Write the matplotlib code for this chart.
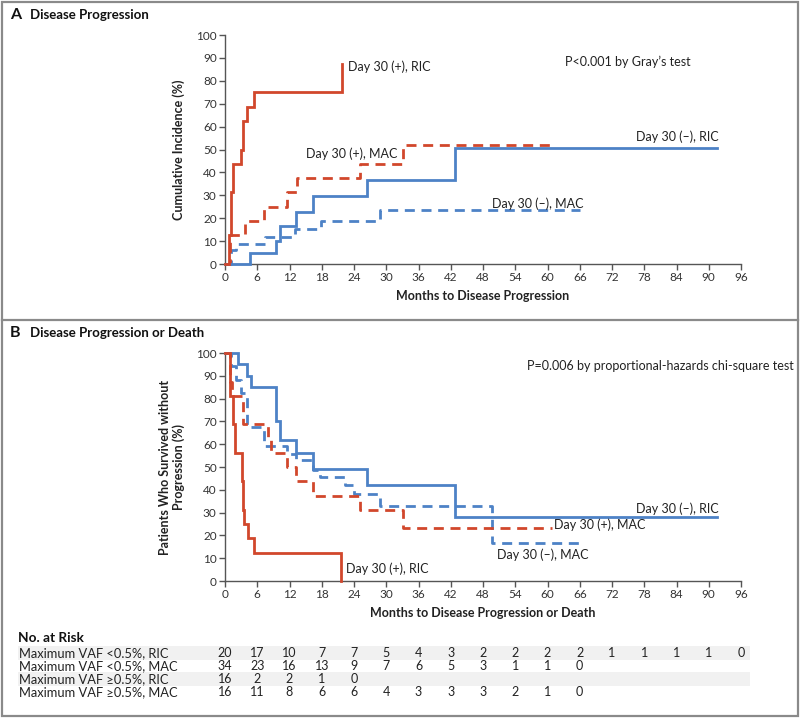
import matplotlib
matplotlib.use("Agg")
import matplotlib.pyplot as plt
from matplotlib.patches import Rectangle
from matplotlib.lines import Line2D
import matplotlib.transforms as mtransforms

plt.rcParams['font.family'] = ['Lato', 'DejaVu Sans']

RED = '#d1472c'
BLUE = '#4d82c6'
GRAY = '#333333'

# ---------- Panel A: cumulative incidence of progression ----------
a_pos_ric_t = [0, 0.8, 1.1, 1.5, 3.0, 3.3, 4.0, 5.4, 21.7]
a_pos_ric_v = [0, 12.5, 31.25, 43.75, 50, 62.5, 68.75, 75, 87.5]
a_pos_ric_end = 21.7

a_pos_mac_t = [0, 0.9, 3.8, 7.2, 11.5, 13.4, 25.2, 33.2]
a_pos_mac_v = [0, 12.5, 18.75, 25, 31.25, 37.5, 43.75, 51.8]
a_pos_mac_end = 60.8

a_neg_ric_t = [0, 4.7, 9.4, 10.2, 13.3, 16.3, 26.5, 42.8]
a_neg_ric_v = [0, 5, 10, 16.5, 22.5, 29.5, 36.5, 50.5]
a_neg_ric_end = 91.5

a_neg_mac_t = [0, 1.1, 2.1, 7.5, 13.1, 17.8, 28.9]
a_neg_mac_v = [0, 5.9, 8.8, 11.8, 15.3, 18.8, 23.5]
a_neg_mac_end = 66

# ---------- Panel B: progression-free survival ----------
b_pos_ric_t = [0, 1.0, 1.4, 1.8, 3.1, 3.2, 3.3, 3.4, 3.6, 4.2, 5.4, 21.6]
b_pos_ric_v = [100, 81.25, 68.75, 56.25, 50, 43.75, 37.5, 31.25, 25, 18.75, 12.5, 0]
b_pos_ric_end = 21.6

b_pos_mac_t = [0, 0.9, 1.3, 3.4, 8.0, 8.6, 11.5, 13.3, 16.4, 25.2, 33.2]
b_pos_mac_v = [100, 87.5, 81.25, 68.75, 62.5, 56.25, 50, 43.75, 37.5, 31.25, 23.4]
b_pos_mac_end = 60.8

b_neg_ric_t = [0, 2.5, 4.0, 4.8, 9.4, 10.2, 13.3, 16.4, 26.5, 42.8]
b_neg_ric_v = [100, 95, 90, 85, 70, 62, 56.2, 49.2, 42.3, 28]
b_neg_ric_end = 91.5

b_neg_mac_t = [0, 1.2, 2.1, 3.0, 4.1, 7.3, 11.5, 13.3, 16.4, 17.7, 22.3, 24.0, 28.9, 49.6]
b_neg_mac_v = [100, 94.1, 88.2, 82.4, 67.6, 59.4, 55.9, 52.9, 48.5, 45.6, 42.0, 38.2, 33.0, 16.5]
b_neg_mac_end = 66

# ---------- number at risk ----------
risk_months = list(range(0, 97, 6))
risk_labels = ['Maximum VAF <0.5%, RIC', 'Maximum VAF <0.5%, MAC',
               'Maximum VAF \u22650.5%, RIC', 'Maximum VAF \u22650.5%, MAC']
risk_neg_ric = [20, 17, 10, 7, 7, 5, 4, 3, 2, 2, 2, 2, 1, 1, 1, 1, 0]
risk_neg_mac = [34, 23, 16, 13, 9, 7, 6, 5, 3, 1, 1, 0]
risk_pos_ric = [16, 2, 2, 1, 0]
risk_pos_mac = [16, 11, 8, 6, 6, 4, 3, 3, 3, 2, 1, 0]
risk_rows = [risk_neg_ric, risk_neg_mac, risk_pos_ric, risk_pos_mac]


def draw_curve(ax, t, v, end, color, dashed):
    x = list(t) + [end]
    y = list(v) + [v[-1]]
    ls = (0, (3.6, 2.4)) if dashed else '-'
    ax.step(x, y, where='post', color=color, lw=2.0, linestyle=ls,
            clip_on=False, solid_joinstyle='miter', zorder=3)


def style_axes(ax, xlabel, ylabel):
    ax.set_xlim(0, 96)
    ax.set_ylim(0, 100)
    ax.set_xticks(range(0, 97, 6))
    ax.set_yticks(range(0, 101, 10))
    for s in ['top', 'right']:
        ax.spines[s].set_visible(False)
    for s in ['left', 'bottom']:
        ax.spines[s].set_color('#555555')
        ax.spines[s].set_linewidth(1.0)
    ax.tick_params(direction='out', length=4, width=1.0, color='#555555',
                   labelsize=8.5, labelcolor=GRAY, pad=2)
    ax.set_xlabel(xlabel, fontsize=9, fontweight='bold', color='#222222', labelpad=5)
    ax.set_ylabel(ylabel, fontsize=9, fontweight='bold', color='#222222', labelpad=8)


fig = plt.figure(figsize=(8, 7.18), dpi=100)

# panel A
axA = fig.add_axes([0.28125, 0.6323, 0.645, 0.3189])
draw_curve(axA, a_neg_mac_t, a_neg_mac_v, a_neg_mac_end, BLUE, True)
draw_curve(axA, a_pos_mac_t, a_pos_mac_v, a_pos_mac_end, RED, True)
draw_curve(axA, a_neg_ric_t, a_neg_ric_v, a_neg_ric_end, BLUE, False)
draw_curve(axA, a_pos_ric_t, a_pos_ric_v, a_pos_ric_end, RED, False)
style_axes(axA, 'Months to Disease Progression', 'Cumulative Incidence (%)')
tk = dict(fontsize=9, color='#222222', va='center')
axA.text(22.9, 86, 'Day 30 (+), RIC', **tk)
axA.text(15.0, 48.0, 'Day 30 (+), MAC', **tk)
axA.text(76.5, 55.5, 'Day 30 (\u2013), RIC', **tk)
axA.text(49.7, 26.5, 'Day 30 (\u2013), MAC', **tk)
axA.text(63.2, 88.3, "P<0.001 by Gray\u2019s test", **tk)

# panel B
axB = fig.add_axes([0.28125, 0.1908, 0.645, 0.3175])
draw_curve(axB, b_neg_mac_t, b_neg_mac_v, b_neg_mac_end, BLUE, True)
draw_curve(axB, b_pos_mac_t, b_pos_mac_v, b_pos_mac_end, RED, True)
draw_curve(axB, b_neg_ric_t, b_neg_ric_v, b_neg_ric_end, BLUE, False)
draw_curve(axB, b_pos_ric_t, b_pos_ric_v, b_pos_ric_end, RED, False)
style_axes(axB, 'Months to Disease Progression or Death',
           'Patients Who Survived without\nProgression (%)')
axB.yaxis.label.set_linespacing(1.1)
axB.text(76.5, 31.5, 'Day 30 (\u2013), RIC', **tk)
axB.text(61.2, 24.5, 'Day 30 (+), MAC', **tk)
axB.text(50.6, 11.5, 'Day 30 (\u2013), MAC', **tk)
axB.text(22.6, 5.5, 'Day 30 (+), RIC', **tk)
axB.text(56.2, 94.5, 'P=0.006 by proportional-hazards chi-square test', **tk)

# panel headers and frame
fig.text(0.0125, 0.979, 'A', fontsize=11.5, fontweight='bold', color='#111111', va='center')
fig.text(0.037, 0.979, 'Disease Progression', fontsize=9.5, fontweight='bold', color='#111111', va='center')
fig.text(0.0125, 0.536, 'B', fontsize=11.5, fontweight='bold', color='#111111', va='center')
fig.text(0.037, 0.536, 'Disease Progression or Death', fontsize=9.5, fontweight='bold', color='#111111', va='center')

fig.patches.append(Rectangle((0.002, 0.003), 0.996, 0.994, transform=fig.transFigure,
                             fill=False, edgecolor='#8a8a8a', lw=1.6))
fig.lines.append(Line2D([0.002, 0.998], [0.5543, 0.5543], transform=fig.transFigure,
                        color='#8a8a8a', lw=1.6))

# number at risk table
fig.text(0.022, 0.111, 'No. at Risk', fontsize=9.8, fontweight='bold', color='#111111', va='center')
row_y = [0.0905, 0.0725, 0.054, 0.036]
trans = mtransforms.blended_transform_factory(axB.transData, fig.transFigure)
for i, (lab, vals) in enumerate(zip(risk_labels, risk_rows)):
    if i % 2 == 0:
        fig.patches.append(Rectangle((0.022, row_y[i] - 0.0095), 0.915, 0.019,
                                     transform=fig.transFigure, facecolor='#f1f1f1',
                                     edgecolor='none', zorder=0))
    fig.text(0.024, row_y[i], lab, fontsize=9.3, color='#222222', va='center')
    for m, n in zip(risk_months, vals):
        fig.text(m, row_y[i], str(n), transform=trans, fontsize=9.0,
                 color='#222222', va='center', ha='center')

fig.savefig('out.png', dpi=100)
